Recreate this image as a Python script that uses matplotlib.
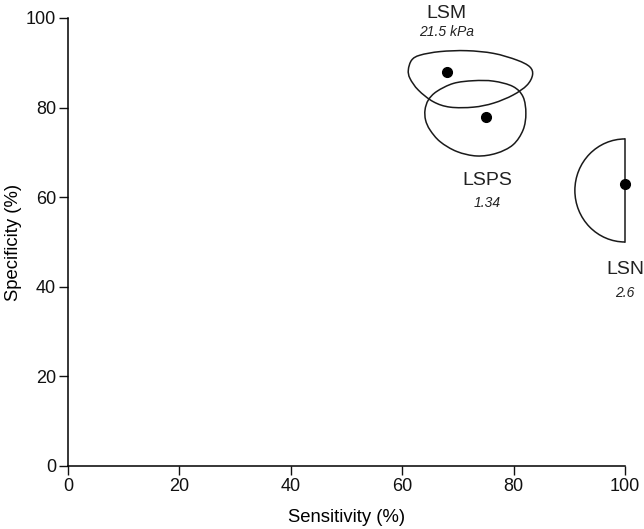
import matplotlib
matplotlib.use("Agg")
import matplotlib.pyplot as plt
import numpy as np
from matplotlib.path import Path
from matplotlib.patches import PathPatch, Arc

plt.rcParams['font.family'] = ['Liberation Sans', 'DejaVu Sans']

# point estimates
names = ["LSM", "LSPS", "LSN"]
cutoffs = ["21.5 kPa", "1.34", "2.6"]
sens = [68, 75, 100]
spec = [88, 78, 63]

# traced confidence regions (sensitivity, specificity)
lsm_x = [61.1, 61.7, 63.2, 66.8, 71.6, 76.4, 80.6, 82.9, 83.4, 82.4, 79.9, 76.4, 72.8, 68.6, 65.6, 62.9, 61.4]
lsm_y = [88.4, 90.6, 91.7, 92.5, 92.7, 92.1, 90.6, 89.1, 87.3, 85.0, 82.8, 81.0, 80.1, 80.1, 81.3, 83.9, 86.5]
lsps_x = [64.1, 64.7, 66.2, 69.2, 72.8, 76.4, 79.9, 81.7, 82.2, 81.7, 79.9, 76.9, 73.4, 69.8, 66.8, 65.0, 64.2]
lsps_y = [79.5, 81.7, 83.6, 85.4, 86.0, 85.9, 84.7, 82.4, 78.7, 75.0, 71.7, 69.8, 69.2, 70.2, 72.4, 75.0, 77.2]
# LSN region: half ellipse against the 100% edge
lsn_center = (100, 61.5)
lsn_halfwidth = 9
lsn_halfheight = 11.5

# label positions
label_x = [68, 75.2, 100.0]
label_y = [101.1, 63.8, 43.8]
sub_y = [96.9, 58.7, 38.6]


def closed_smooth_path(xs, ys):
    # catmull-rom -> cubic bezier, drawn by matplotlib's Path
    pts = np.column_stack([xs, ys])
    n = len(pts)
    verts = [pts[0]]
    codes = [Path.MOVETO]
    for i in range(n):
        p0 = pts[(i - 1) % n]
        p1 = pts[i]
        p2 = pts[(i + 1) % n]
        p3 = pts[(i + 2) % n]
        c1 = p1 + (p2 - p0) / 6.0
        c2 = p2 - (p3 - p1) / 6.0
        verts += [c1, c2, p2]
        codes += [Path.CURVE4] * 3
    return Path(verts, codes)


fig = plt.figure(figsize=(6.44, 5.29), dpi=100)
ax = fig.add_axes([0.1056, 0.1191, 0.8649, 0.8469])

for xs, ys in [(lsm_x, lsm_y), (lsps_x, lsps_y)]:
    ax.add_patch(PathPatch(closed_smooth_path(xs, ys), facecolor='none',
                           edgecolor='#1a1a1a', lw=1.1))

ax.add_patch(Arc(lsn_center, 2 * lsn_halfwidth, 2 * lsn_halfheight, theta1=90, theta2=270,
                 edgecolor='#1a1a1a', lw=1.1, clip_on=False))
ax.plot([lsn_center[0], lsn_center[0]],
        [lsn_center[1] - lsn_halfheight, lsn_center[1] + lsn_halfheight],
        color='#1a1a1a', lw=1.1, clip_on=False)

ax.plot(sens, spec, 'o', color='black', markersize=7, clip_on=False, zorder=5)

for i in range(len(names)):
    ax.text(label_x[i], label_y[i], names[i], ha='center', va='center', fontsize=14,
            color='#222222', clip_on=False)
    ax.text(label_x[i], sub_y[i], cutoffs[i], ha='center', va='center', fontsize=10,
            style='italic', color='#222222', clip_on=False)

ax.set_xlim(0, 100)
ax.set_ylim(0, 100)
ax.set_xticks([0, 20, 40, 60, 80, 100])
ax.set_yticks([0, 20, 40, 60, 80, 100])
ax.spines['top'].set_visible(False)
ax.spines['right'].set_visible(False)
ax.spines['left'].set_linewidth(1.1)
ax.spines['bottom'].set_linewidth(1.1)
ax.tick_params(direction='out', length=6.5, width=1.0, labelsize=13, colors='#111111', pad=2)
ax.set_xlabel("Sensitivity (%)", fontsize=13.3, labelpad=10)
ax.set_ylabel("Specificity (%)", fontsize=13.3, labelpad=3)

fig.savefig("out.png", dpi=100)
